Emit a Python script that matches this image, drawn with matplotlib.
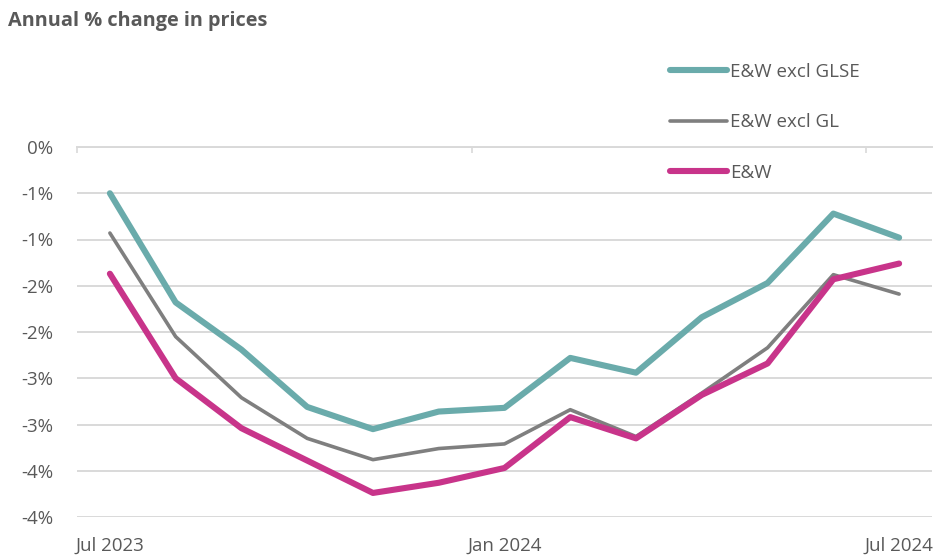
import numpy as np
import matplotlib
matplotlib.use("Agg")
import matplotlib.pyplot as plt

plt.rcParams['font.family'] = ['Open Sans', 'DejaVu Sans']

months = ["Jul 2023", "Aug 2023", "Sep 2023", "Oct 2023", "Nov 2023", "Dec 2023",
          "Jan 2024", "Feb 2024", "Mar 2024", "Apr 2024", "May 2024", "Jun 2024", "Jul 2024"]

# annual % change
ew_excl_glse = [-0.50, -1.68, -2.19, -2.81, -3.05, -2.86, -2.82, -2.28, -2.44, -1.84, -1.47, -0.72, -0.98]
ew_excl_gl = [-0.93, -2.05, -2.71, -3.15, -3.38, -3.26, -3.21, -2.84, -3.13, -2.66, -2.17, -1.38, -1.59]
ew = [-1.37, -2.50, -3.04, -3.39, -3.74, -3.63, -3.47, -2.92, -3.15, -2.68, -2.34, -1.43, -1.26]

y_ticks = [0, -0.5, -1.0, -1.5, -2.0, -2.5, -3.0, -3.5, -4.0]
y_labels = ["0%", "-1%", "-1%", "-2%", "-2%", "-3%", "-3%", "-4%", "-4%"]
x_label_pos = [0, 6, 12]

text_col = '#595959'
grid_col = '#D9D9D9'

fig = plt.figure(figsize=(9.41, 5.58), dpi=100)
ax = fig.add_axes([77/941, 1 - 517/558, (932 - 77)/941, (517 - 147)/558])

x = np.arange(len(months))
ax.plot(x, ew_excl_glse, color='#6AABAB', lw=4.4, solid_capstyle='round', solid_joinstyle='round',
        label='E&W excl GLSE', zorder=3)
ax.plot(x, ew_excl_gl, color='#7F7F7F', lw=2.6, solid_capstyle='round', solid_joinstyle='round',
        label='E&W excl GL', zorder=3)
ax.plot(x, ew, color='#C8348A', lw=4.4, solid_capstyle='round', solid_joinstyle='round',
        label='E&W', zorder=4)

ax.set_xlim(-0.5, len(months) - 0.5)
ax.set_ylim(-4.0, 0)

ax.set_yticks(y_ticks)
ax.set_yticklabels(y_labels)
ax.yaxis.grid(True, color=grid_col, lw=1.4)
ax.set_axisbelow(True)

ax.set_xticks(x_label_pos)
ax.set_xticklabels([months[i] for i in x_label_pos])
ax.set_xticks([-0.5, 5.5, 11.5], minor=True)
ax.tick_params(axis='x', which='major', length=0, pad=14, labelsize=13.5, labelcolor=text_col)
ax.tick_params(axis='x', which='minor', bottom=False, top=True, direction='in', length=4,
               color=grid_col, width=1.2)
ax.tick_params(axis='y', length=0, pad=17, labelsize=13.5, labelcolor=text_col)

for s in ['left', 'right', 'bottom']:
    ax.spines[s].set_visible(False)
ax.spines['top'].set_color(grid_col)
ax.spines['top'].set_linewidth(1.4)

fig.text(8/941, 1 - 21/558, 'Annual % change in prices', fontsize=14.3, fontweight='bold',
         color=text_col, va='center', ha='left')

leg = ax.legend(loc='upper left', bbox_to_anchor=(670/941, 1 - 63/558), bbox_transform=fig.transFigure,
                frameon=False, fontsize=13.5, handlelength=3.05, handletextpad=0.15,
                labelspacing=1.72, borderpad=0, borderaxespad=0)
for t in leg.get_texts():
    t.set_color(text_col)

fig.savefig('out.png', dpi=100)
